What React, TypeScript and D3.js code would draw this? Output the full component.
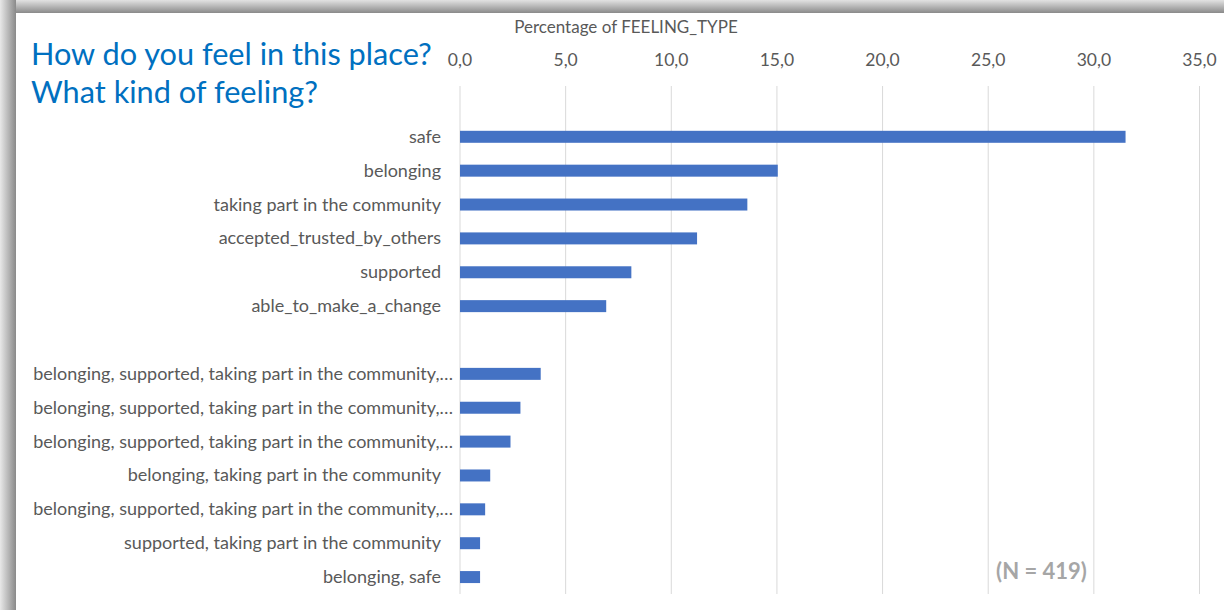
import React from "react";
import * as d3 from "d3";

const categories: string[] = [
  "",
  "safe",
  "belonging",
  "taking part in the community",
  "accepted_trusted_by_others",
  "supported",
  "able_to_make_a_change",
  "",
  "belonging, supported, taking part in the community,…",
  "belonging, supported, taking part in the community,…",
  "belonging, supported, taking part in the community,…",
  "belonging, taking part in the community",
  "belonging, supported, taking part in the community,…",
  "supported, taking part in the community",
  "belonging, safe",
];
const values: (number | null)[] = [
  null, 31.5, 15.04, 13.6, 11.22, 8.11, 6.92, null, 3.82, 2.86, 2.39, 1.43, 1.19, 0.95, 0.95,
];
const xTicks: number[] = [0, 5, 10, 15, 20, 25, 30, 35];
const titleLines: string[] = ["How do you feel in this place?", "What kind of feeling?"];
const axisTitle = "Percentage of FEELING_TYPE";
const note = "(N = 419)";

const W = 1224;
const H = 610;
const FONT = "Lato, 'Open Sans', sans-serif";

export default function App() {
  const x = d3.scaleLinear().domain([0, 35]).range([460, 1199.5]);
  const idx = categories.map((_, i) => String(i));
  const pi = 0.646;
  const y = d3.scaleBand<string>().domain(idx).range([86, 594]).paddingInner(pi).paddingOuter(pi / 2);
  const fmt = (v: number) => d3.format(".1f")(v).replace(".", ",");

  return (
    <div style={{ position: "fixed", left: 0, top: 0, width: W, height: H, background: "#fff" }}>
      <svg width={W} height={H} style={{ display: "block" }}>
        <defs>
          <linearGradient id="shTop" x1="0" y1="0" x2="0" y2="1">
            <stop offset="0" stopColor="#e2e2e2" />
            <stop offset="1" stopColor="#8a8a8a" />
          </linearGradient>
          <linearGradient id="shLeft" x1="0" y1="0" x2="1" y2="0">
            <stop offset="0" stopColor="#e8e8e8" />
            <stop offset="1" stopColor="#8a8a8a" />
          </linearGradient>
        </defs>
        <rect x={0} y={0} width={W} height={H} fill="#fff" />
        <rect x={0} y={0} width={W} height={13} fill="url(#shTop)" />
        <rect x={0} y={0} width={16} height={H} fill="url(#shLeft)" />

        {/* gridlines */}
        {xTicks.map((t) => (
          <line key={"g" + t} x1={x(t)} x2={x(t)} y1={86} y2={594} stroke="#d9d9d9" strokeWidth={1} />
        ))}

        {/* tick labels */}
        {xTicks.map((t) => (
          <text key={"t" + t} x={x(t)} y={66} textAnchor="middle" fontFamily={FONT} fontSize={17.5} fill="#595959">
            {fmt(t)}
          </text>
        ))}

        <text x={626} y={33} textAnchor="middle" fontFamily={FONT} fontSize={17} fill="#595959">
          {axisTitle}
        </text>

        {/* bars */}
        {values.map((v, i) =>
          v == null ? null : (
            <rect key={"b" + i} x={x(0)} y={y(String(i))!} width={x(v) - x(0)} height={y.bandwidth()} fill="#4472c4" />
          )
        )}

        {/* category labels */}
        {categories.map((c, i) =>
          c === "" ? null : (
            <text
              key={"c" + i}
              x={c.endsWith("…") ? 453 : 441}
              y={y(String(i))! + y.bandwidth() / 2 + 6}
              textAnchor="end"
              fontFamily={FONT}
              fontSize={18}
              fill="#595959"
            >
              {c}
            </text>
          )
        )}

        {/* title */}
        {titleLines.map((l, i) => (
          <text key={"h" + i} x={31} y={65 + i * 38} fontFamily={FONT} fontSize={30.7} fill="#0070c0">
            {l}
          </text>
        ))}

        <text x={1041.5} y={579} textAnchor="middle" fontFamily={FONT} fontSize={22} fontWeight="bold" fill="#a6a6a6">
          {note}
        </text>
      </svg>
    </div>
  );
}
